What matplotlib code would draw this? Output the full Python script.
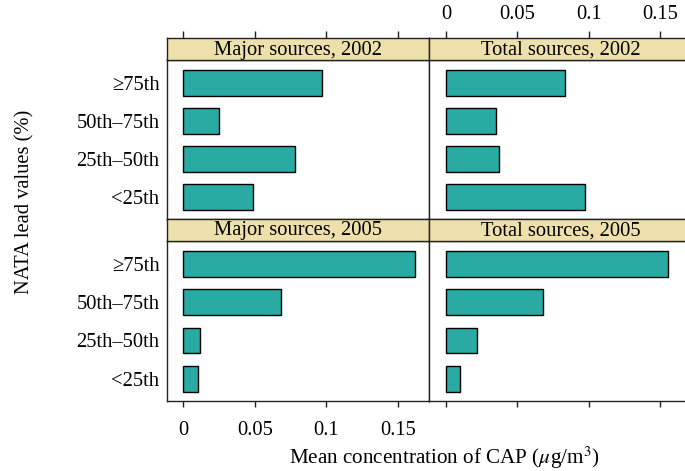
import matplotlib
matplotlib.use('Agg')
from matplotlib import pyplot as plt
import numpy as np

plt.rcParams['font.family'] = ['Liberation Serif', 'DejaVu Serif']
plt.rcParams['mathtext.fontset'] = 'stix'

# data, bottom to top
categories = ['<25th', '25th\u201350th', '50th\u201375th', '\u226575th']
major_2002 = [0.049, 0.078, 0.025, 0.097]
total_2002 = [0.097, 0.037, 0.035, 0.083]
major_2005 = [0.010, 0.012, 0.068, 0.162]
total_2005 = [0.010, 0.022, 0.068, 0.155]
xticks = [0, 0.05, 0.1, 0.15]
xticklabels = ['0', '0.05', '0.1', '0.15']

W, H = 685, 471
bar_col = '#29aaa3'
strip_col = '#ede0ab'
fs = 14.8

def box(x0, y0, x1, y1):
    return [x0 / W, 1 - y1 / H, (x1 - x0) / W, (y1 - y0) / H]

fig = plt.figure(figsize=(W / 100, H / 100), dpi=100)

xl = (-0.0116, 0.172)
cols = [(166.7, 429.3), (429.3, 691.9)]
rows = [(38.3, 60, 219), (219, 240.7, 401)]
panels = [[('Major sources, 2002', major_2002), ('Total sources, 2002', total_2002)],
          [('Major sources, 2005', major_2005), ('Total sources, 2005', total_2005)]]

ypos = np.arange(1, len(categories) + 1)

for r, (s0, p0, p1) in enumerate(rows):
    for c, (x0, x1) in enumerate(cols):
        title, vals = panels[r][c]
        ax = fig.add_axes(box(x0, p0, x1, p1))
        ax.barh(ypos, vals, height=0.67, color=bar_col, edgecolor='black', linewidth=1.0)
        ax.set_xlim(xl)
        ax.set_ylim(0.42, 4.6)
        for sp in ax.spines.values():
            sp.set_color('#222222')
            sp.set_linewidth(1.0)
        ax.set_xticks(xticks)
        if c == 0:
            ax.set_yticks(ypos)
            ax.set_yticklabels(categories, fontsize=fs)
            ax.tick_params(axis='y', length=0, pad=5.3)
        else:
            ax.set_yticks([])
        # bottom ticks
        if r == 1:
            ax.tick_params(axis='x', bottom=True, top=False, direction='out',
                           length=4.3, width=1, color='#222222', pad=10.0,
                           labelsize=fs, labelbottom=(c == 0))
            if c == 0:
                ax.set_xticklabels(xticklabels)
        else:
            ax.tick_params(axis='x', bottom=False, labelbottom=False)

        st = fig.add_axes(box(x0, s0, x1, p0))
        st.set_facecolor(strip_col)
        st.set_xlim(xl)
        st.set_ylim(0, 1)
        st.set_yticks([])
        for sp in st.spines.values():
            sp.set_color('#222222')
            sp.set_linewidth(1.0)
        st.text(0.5, 0.45, title, transform=st.transAxes,
                ha='center', va='center', fontsize=fs)
        st.set_xticks(xticks)
        if r == 0:
            st.tick_params(axis='x', bottom=False, labelbottom=False, top=True,
                           direction='out', length=5.3, width=1, color='#222222',
                           pad=5.0, labelsize=fs, labeltop=(c == 1))
            if c == 1:
                st.set_xticklabels(xticklabels)
        else:
            st.tick_params(axis='x', bottom=False, labelbottom=False)

fig.text(25 / W, 1 - 202 / H, 'NATA lead values (%)', rotation=90,
         ha='center', va='center', fontsize=fs)
fig.text(444 / W, 1 - 458 / H, r'Mean concentration of CAP ($\mu$g/m$^3$)',
         ha='center', va='center', fontsize=fs + 0.4)

plt.savefig('out.png', dpi=100)
plt.close()
